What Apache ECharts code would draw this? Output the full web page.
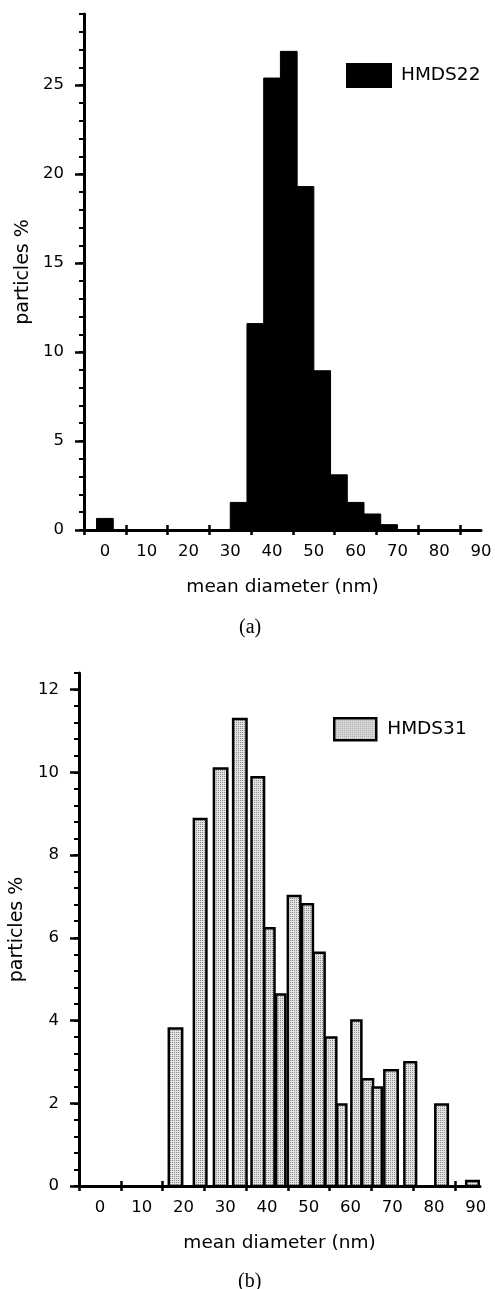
<!DOCTYPE html>
<html>
<head>
<meta charset="utf-8">
<title>Particle size histograms</title>
<script src="https://cdn.jsdelivr.net/npm/echarts@6/dist/echarts.min.js"></script>
<style>
  html, body { margin: 0; padding: 0; background: #fff; }
  #chart { width: 495px; height: 1289px; }
</style>
</head>
<body>
<div id="chart"></div>
<script>
// (a) HMDS22: bin edges (nm) and share of particles (%)
const lowerA = [-2, 30, 34, 38, 42, 46, 50, 54, 58, 62, 66];
const upperA = [2, 34, 38, 42, 46, 50, 54, 58, 62, 66, 70];
const pctA = [0.65, 1.55, 11.6, 25.4, 26.9, 19.3, 8.95, 3.1, 1.55, 0.9, 0.3];

// (b) HMDS31: bin edges (nm) and share of particles (%)
const lowerB = [16.2, 22.2, 27.0, 31.6, 36.0, 39.1, 41.9, 44.7, 48.1, 50.9, 53.7, 56.5, 59.9, 62.5, 65.0, 67.8, 72.6, 80.0, 87.4];
const upperB = [20.0, 25.8, 30.8, 35.4, 39.6, 42.1, 44.7, 48.3, 51.3, 54.1, 56.9, 59.3, 62.9, 65.7, 67.8, 71.6, 76.0, 83.6, 91.0];
const pctB = [3.84, 8.9, 10.12, 11.32, 9.91, 6.26, 4.66, 7.04, 6.84, 5.67, 3.62, 2.0, 4.03, 2.61, 2.41, 2.83, 3.02, 2.0, 0.15];

// tick labels / tick marks
const xLabels = [0, 10, 20, 30, 40, 50, 60, 70, 80, 90];
const xTicks = [-5, 5, 15, 25, 35, 45, 55, 65, 75, 85];
const yLabelsA = [0, 5, 10, 15, 20, 25];
const yLabelsB = [0, 2, 4, 6, 8, 10, 12];

const FONT = 'DejaVu Sans';
const chart = echarts.init(document.getElementById('chart'));

// stippled grey fill like the printed figure
const dots = document.createElement('canvas');
dots.width = 2;
dots.height = 2;
const dctx = dots.getContext('2d');
dctx.fillStyle = '#e2e2e2';
dctx.fillRect(0, 0, 2, 2);
dctx.fillStyle = '#8e8e8e';
dctx.fillRect(0, 0, 1, 1);
const stipple = { image: dots, repeat: 'repeat' };

function histRect(lw) {
  return function (params, api) {
    const a = api.coord([api.value(0), 0]);
    const b = api.coord([api.value(1), api.value(2)]);
    const h = lw / 2;
    return {
      type: 'rect',
      shape: { x: a[0] + h, y: b[1] + h, width: b[0] - a[0] - lw, height: a[1] - b[1] - h },
      style: api.style()
    };
  };
}

// main x axis: outward ticks, labels between ticks
function xMain(grid, max) {
  return {
    type: 'value', gridIndex: grid, position: 'bottom', min: -5, max: max,
    name: 'mean diameter (nm)', nameLocation: 'middle', nameGap: 48,
    nameTextStyle: { fontFamily: FONT, fontSize: 18.5, color: '#000' },
    axisLine: { onZero: false, lineStyle: { color: '#000', width: 3 } },
    axisTick: { customValues: xTicks, length: 5, lineStyle: { color: '#000', width: 2.5 } },
    axisLabel: { customValues: xLabels, margin: 13, fontFamily: FONT, fontSize: 16.5, color: '#000' },
    splitLine: { show: false }
  };
}
// second x axis only for the inward half of the crossing ticks
function xInner(grid, max) {
  return {
    type: 'value', gridIndex: grid, position: 'bottom', min: -5, max: max,
    axisLine: { show: false, onZero: false },
    axisTick: { customValues: xTicks, inside: true, length: 5, lineStyle: { color: '#000', width: 2.5 } },
    axisLabel: { show: false },
    splitLine: { show: false }
  };
}
function yMain(grid, max, labels, gap) {
  return {
    type: 'value', gridIndex: grid, position: 'left', min: 0, max: max,
    name: 'particles %', nameLocation: 'middle', nameGap: gap,
    nameTextStyle: { fontFamily: FONT, fontSize: 19, color: '#000' },
    axisLine: { show: true, onZero: false, lineStyle: { color: '#000', width: 3 } },
    axisTick: { show: true, customValues: labels, length: 9, lineStyle: { color: '#000', width: 2.5 } },
    axisLabel: { customValues: labels, margin: 20, fontFamily: FONT, fontSize: 16.5, color: '#000' },
    splitLine: { show: false }
  };
}
function yMinor(grid, max, step) {
  return {
    type: 'value', gridIndex: grid, position: 'left', min: 0, max: max, interval: step,
    axisLine: { show: false, onZero: false },
    axisTick: { show: true, length: 5, lineStyle: { color: '#000', width: 2 } },
    axisLabel: { show: false },
    splitLine: { show: false }
  };
}

const option = {
  backgroundColor: '#fff',
  animation: false,
  title: [
    { text: '(a)', left: 234, top: 613, textStyle: { fontFamily: 'Liberation Serif', fontSize: 20, fontWeight: 'normal', color: '#000' } },
    { text: '(b)', left: 233, top: 1267, textStyle: { fontFamily: 'Liberation Serif', fontSize: 20, fontWeight: 'normal', color: '#000' } }
  ],
  legend: [
    {
      left: 346, top: 63, padding: 0, itemWidth: 44, itemHeight: 23,
      data: [{ name: 'HMDS22', icon: 'rect', itemStyle: { color: '#000' } }],
      textStyle: { fontFamily: FONT, fontSize: 18.5, color: '#000', padding: [0, 0, 0, 5] }
    },
    {
      left: 333, top: 717, padding: 0, itemWidth: 42, itemHeight: 22,
      data: [{ name: 'HMDS31', icon: 'rect', itemStyle: { color: stipple, borderColor: '#000', borderWidth: 2.5 } }],
      textStyle: { fontFamily: FONT, fontSize: 18.5, color: '#000', padding: [0, 0, 0, 6] }
    }
  ],
  grid: [
    { left: 84, top: 14, width: 397, height: 516 },
    { left: 79, top: 673, width: 401, height: 513 }
  ],
  xAxis: [xMain(0, 90), xInner(0, 90), xMain(1, 91), xInner(1, 91)],
  yAxis: [
    yMain(0, 29, yLabelsA, 50), yMinor(0, 29, 1),
    yMain(1, 12.4, yLabelsB, 52), yMinor(1, 12.4, 0.4)
  ],
  series: [
    {
      name: 'HMDS22', type: 'custom', xAxisIndex: 0, yAxisIndex: 0,
      renderItem: histRect(0),
      itemStyle: { color: '#000', borderColor: '#000', borderWidth: 1 },
      encode: { x: [0, 1], y: 2 },
      data: lowerA.map((v, i) => [v, upperA[i], pctA[i]])
    },
    {
      name: 'HMDS31', type: 'custom', xAxisIndex: 2, yAxisIndex: 2,
      renderItem: histRect(2.5),
      itemStyle: { color: stipple, borderColor: '#000', borderWidth: 2.5 },
      encode: { x: [0, 1], y: 2 },
      data: lowerB.map((v, i) => [v, upperB[i], pctB[i]])
    }
  ]
};

chart.setOption(option);
</script>
</body>
</html>
